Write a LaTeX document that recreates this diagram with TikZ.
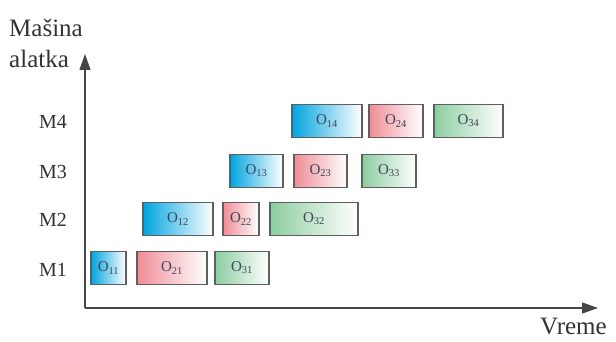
\documentclass[tikz,border=0pt]{standalone}
\usepackage{fontspec}
\setmainfont{Liberation Serif}
\usetikzlibrary{arrows.meta}
\definecolor{axisgray}{RGB}{70,70,70}
\definecolor{boxline}{RGB}{95,95,95}
\definecolor{jobA}{RGB}{0,165,225}
\definecolor{jobB}{RGB}{240,140,150}
\definecolor{jobC}{RGB}{140,205,160}
\definecolor{optext}{RGB}{60,70,90}
\tikzset{
  x=1pt, y=1pt,
  axisline/.style={draw=axisgray, line width=1.1pt, -{Triangle[length=16pt,width=11pt]}},
  opbox/.style={draw=boxline, line width=1.1pt, minimum height=33pt, inner sep=0pt,
    shading=axis, shading angle=90, right color=white, text=optext,
    font=\fontsize{15}{15}\selectfont},
  jobone/.style={opbox, left color=jobA},
  jobtwo/.style={opbox, left color=jobB},
  jobthree/.style={opbox, left color=jobC},
  mlabel/.style={font=\fontsize{20}{20}\selectfont, text=black!80},
  axlabel/.style={font=\fontsize{25}{25}\selectfont, text=black!80, inner sep=0pt, anchor=base west}
}
\begin{document}
\begin{tikzpicture}
\useasboundingbox (0,0) rectangle (616,342);
% axes
\coordinate (o) at (85,34);
\coordinate (ytop) at (85,288);
\coordinate (xend) at (598,34);
\draw[axisline] (o) -- (ytop);
\draw[axisline] (o) -- (xend);
% axis labels
\node[axlabel] (ylab1) at (9,305) {Mašina};
\node[axlabel] (ylab2) at (9,274) {alatka};
\node[axlabel] (xlab) at (540,7) {Vreme};
% machine labels
\node[mlabel] (m1) at (53,72) {M1};
\node[mlabel] (m2) at (53,122) {M2};
\node[mlabel] (m3) at (53,170) {M3};
\node[mlabel] (m4) at (53,220) {M4};
% M1
\node[jobone, minimum width=35pt] (o11) at (108.5,74) {O\textsubscript{11}};
\node[jobtwo, minimum width=70pt] (o21) at (172,74) {O\textsubscript{21}};
\node[jobthree, minimum width=54pt] (o31) at (242,74) {O\textsubscript{31}};
% M2
\node[jobone, minimum width=70pt] (o12) at (178,123) {O\textsubscript{12}};
\node[jobtwo, minimum width=36pt] (o22) at (241,123) {O\textsubscript{22}};
\node[jobthree, minimum width=88pt] (o32) at (314,123) {O\textsubscript{32}};
% M3
\node[jobone, minimum width=53pt] (o13) at (256.5,171) {O\textsubscript{13}};
\node[jobtwo, minimum width=53pt] (o23) at (320.5,171) {O\textsubscript{23}};
\node[jobthree, minimum width=54pt] (o33) at (389,171) {O\textsubscript{33}};
% M4
\node[jobone, minimum width=70pt] (o14) at (327,221) {O\textsubscript{14}};
\node[jobtwo, minimum width=54pt] (o24) at (396,221) {O\textsubscript{24}};
\node[jobthree, minimum width=69pt] (o34) at (468.5,221) {O\textsubscript{34}};
\end{tikzpicture}
\end{document}
